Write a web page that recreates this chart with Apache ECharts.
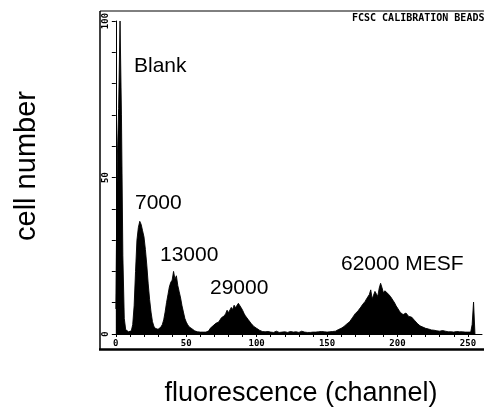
<!DOCTYPE html>
<html>
<head>
<meta charset="utf-8">
<script src="https://cdn.jsdelivr.net/npm/echarts@6/dist/echarts.min.js"></script>
<style>
  html, body { margin: 0; padding: 0; background: #fff; }
  #chart { width: 484px; height: 414px; }
</style>
</head>
<body>
<div id="chart"></div>
<script>
// Flow cytometry histogram of calibration beads: cell count per fluorescence channel (0-255).
// Counts are kept per population, in channel order.
const countsBlank = [8, 55, 72, 100, 70, 25, 5, 1.4, 0.8, 0.7, 0.8];                      // ch 0-10
const counts7000 = [1, 3, 9, 20, 30, 34, 36, 35, 33, 31, 27, 22, 16, 11, 7, 4, 2.5, 1.8, 1.4]; // ch 11-29
const counts13000 = [1.5, 1.8, 2.2, 3, 4.5, 7, 10, 12.5, 15, 16.5, 17.2, 20, 17.5, 18.6, 15.5,
  13.5, 11.5, 9, 7, 5, 3.8, 3, 2.3, 2, 1.7, 1.3, 1, 0.8, 0.7, 0.6];                         // ch 30-59
const counts29000 = [0.6, 0.7, 0.6, 0.5, 0.6, 0.7, 1.0, 1.8, 1.2, 2.6, 2.0, 3.4, 3.0, 3.8,
  4.2, 5.2, 4.8, 5.8, 6.5, 7.6, 6.8, 7.4, 8.5, 7.8, 9.2, 8.4, 8.0, 9.8, 9.4, 8.4, 7.6, 6.6,
  5.8, 5.2, 4.6, 4.0, 3.4, 2.8, 2.4, 2.0, 1.8, 1.5, 1.2, 1.0, 0.8, 0.7];                     // ch 60-105
const countsGap = [0.7, 0.6, 0.8, 0.5, 0.6, 0.7, 0.5, 0.6, 0.9, 0.6, 0.5, 1.1, 0.6, 0.5, 0.7,
  0.6, 0.5, 0.6, 0.8, 0.5, 0.6, 0.5, 0.7, 0.6, 0.5, 0.6, 0.9, 0.5, 0.6, 0.7, 0.5, 0.6, 0.5,
  0.7, 0.6, 0.8, 0.6, 0.5, 0.7, 0.6, 0.8, 0.6, 0.7, 0.9];                                    // ch 106-149
const counts62000 = [
  0.6, 0.8, 0.7, 0.9, 0.8, 1.0, 0.9, 1.2, 1.4, 1.3,
  1.8, 2.0, 2.4, 2.6, 3.2, 3.5, 3.9, 4.4, 5.2, 5.8,
  6.5, 6.9, 7.4, 7.9, 8.6, 9.3, 9.8, 10.4, 11.2, 11.8,
  12.6, 14.1, 11.2, 12.4, 13.6, 12.8, 12.0, 14.6, 16.2, 14.8,
  13.1, 13.8, 14.2, 13.0, 13.6, 12.0, 11.4, 10.6, 9.9, 9.0,
  8.3, 7.6, 6.9, 6.6, 6.2, 6.0, 6.7, 6.3, 5.6, 6.1,
  5.4, 5.0, 4.4, 4.0, 3.4, 3.0, 2.6, 2.4, 2.2, 2.0,
  1.8, 1.7, 1.6, 1.4, 1.3, 1.2, 1.2, 1.1, 1.0, 1.1,
  0.9, 1.0, 1.1, 0.8, 0.9, 0.8, 0.7, 0.8, 0.7, 0.8,
  0.6, 0.7, 0.8, 0.6, 0.7, 0.6, 0.7, 0.6, 0.6, 0.5,
  0.6, 0.5, 0.6, 3.0, 10.2, 0];                                                               // ch 150-255

const xTickLabels = [0, 50, 100, 150, 200, 250];
const yTickLabels = [0, 50, 100];
const peakLabels = ['Blank', '7000', '13000', '29000', '62000 MESF'];
const chartTitle = 'FCSC CALIBRATION BEADS';
const xTitle = 'fluorescence (channel)';
const yTitle = 'cell number';

const counts = [].concat(countsBlank, counts7000, counts13000, counts29000, countsGap, counts62000);
const histogram = counts.map((v, ch) => [ch, v]);

const minorTicks = [];
for (let c = 0; c <= 250; c += 10) minorTicks.push(c);

const monoFont = '"DejaVu Sans Mono", "Liberation Mono", monospace';
const sansFont = '"Liberation Sans", Arial, Helvetica, sans-serif';

const peakText = (text, x, y) => ({
  type: 'text', left: x, top: y,
  style: { text: text, font: '21px ' + sansFont, fill: '#000' }
});

const chart = echarts.init(document.getElementById('chart'), null, { renderer: 'canvas' });
chart.setOption({
  animation: false,
  backgroundColor: '#fff',
  grid: { left: 113, top: 21, right: 2, bottom: 80 },
  xAxis: {
    type: 'value', min: -2, max: 260,
    axisLine: { show: true, lineStyle: { color: '#000', width: 1 } },
    axisTick: { show: true, customValues: minorTicks, length: 3, lineStyle: { color: '#000', width: 1 } },
    axisLabel: {
      customValues: xTickLabels, margin: 5, color: '#000',
      fontFamily: monoFont, fontWeight: 'bold', fontSize: 9
    },
    splitLine: { show: false }
  },
  yAxis: {
    type: 'value', min: 0, max: 100, interval: 10,
    axisLine: { show: true, lineStyle: { color: '#000', width: 1 } },
    axisTick: { show: true, length: 4, lineStyle: { color: '#000', width: 1 } },
    axisLabel: {
      rotate: 90, margin: 3, color: '#000',
      fontFamily: monoFont, fontWeight: 'bold', fontSize: 9,
      formatter: v => (yTickLabels.indexOf(v) >= 0 ? String(v) : '')
    },
    splitLine: { show: false }
  },
  series: [{
    type: 'line',
    data: histogram,
    symbol: 'none',
    lineStyle: { color: '#000', width: 0.9 },
    areaStyle: { color: '#000', opacity: 1 }
  }],
  graphic: [
    // instrument frame (runs off the right edge)
    { type: 'line', shape: { x1: 100, y1: 11, x2: 100, y2: 350 }, style: { stroke: '#000', lineWidth: 1.5 } },
    { type: 'line', shape: { x1: 100, y1: 11, x2: 484, y2: 11 }, style: { stroke: '#000', lineWidth: 1 } },
    { type: 'line', shape: { x1: 99, y1: 349.5, x2: 484, y2: 349.5 }, style: { stroke: '#000', lineWidth: 2.5 } },
    { type: 'text', left: 352, top: 13, style: { text: chartTitle, font: 'bold 10px ' + monoFont, fill: '#000' } },
    peakText(peakLabels[0], 134, 56),
    peakText(peakLabels[1], 135, 193),
    peakText(peakLabels[2], 160, 245),
    peakText(peakLabels[3], 210, 278),
    peakText(peakLabels[4], 341, 254),
    {
      type: 'text', x: 27, y: 166, rotation: Math.PI / 2,
      style: { text: yTitle, font: '29px ' + sansFont, fill: '#000', align: 'center', verticalAlign: 'middle' }
    },
    {
      type: 'text', x: 301, y: 394,
      style: { text: xTitle, font: '27px ' + sansFont, fill: '#000', align: 'center', verticalAlign: 'middle' }
    }
  ]
});
</script>
</body>
</html>
